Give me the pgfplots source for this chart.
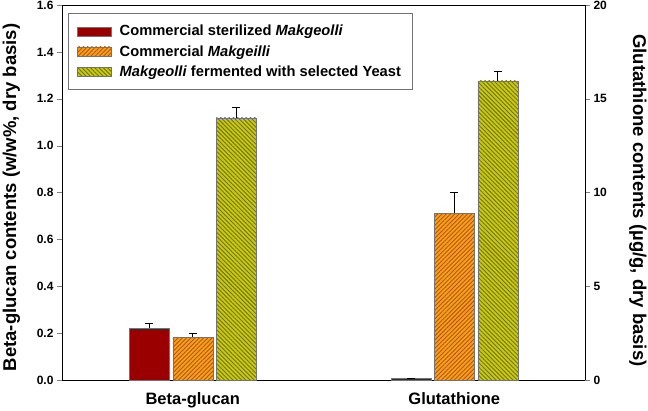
\documentclass[border=0pt]{standalone}
\usepackage{pgfplots}
\pgfplotsset{compat=1.18}
\usepackage{fontspec}
\setmainfont{Liberation Sans}
\usetikzlibrary{patterns.meta}
\definecolor{cred}{RGB}{155,0,0}
\definecolor{corange}{RGB}{245,160,35}
\definecolor{corangeL}{RGB}{185,85,0}
\definecolor{cgreen}{RGB}{200,200,25}
\definecolor{cgreenL}{RGB}{115,115,0}
\pgfplotsset{
  common/.style={
    width=523pt, height=375pt, scale only axis,
    xmin=0, xmax=4,
    ybar=3.5pt, bar width=40pt,
    tick align=outside,
    major tick length=5pt,
    /pgf/number format/assume math mode=true,
    ticklabel style={font=\bfseries\fontsize{12}{13}\selectfont},
    label style={font=\bfseries\fontsize{18.5}{20}\selectfont},
    error bars/error bar style={black, line width=0.7pt},
    error bars/error mark options={rotate=90, mark size=4pt, line width=0.7pt},
    legend image code/.code={\draw[##1] (0pt,-4.5pt) rectangle (34pt,4.5pt); \path (40pt,0pt);},
  },
  redbar/.style={fill=cred, draw=black!55, line width=0.3pt},
  orbar/.style={fill=corange, draw=black!55, line width=0.3pt,
    postaction={pattern={Lines[angle=45,distance=3pt,line width=0.9pt]}, pattern color=corangeL}},
  grbar/.style={fill=cgreen, draw=black!55, line width=0.3pt,
    postaction={pattern={Lines[angle=-45,distance=3pt,line width=0.9pt]}, pattern color=cgreenL}},
}
\begin{document}
\begin{tikzpicture}
\begin{axis}[common,
  ymin=0, ymax=1.6,
  ytick={0,0.2,...,1.6},
  yticklabel style={/pgf/number format/.cd, fixed, fixed zerofill, precision=1},
  ytick pos=left,
  xtick={1,3}, xticklabels={Beta-glucan, Glutathione},
  xtick style={draw=none},
  xticklabel style={font=\bfseries\fontsize{16.5}{18}\selectfont, yshift=-4.5pt},
  ylabel={Beta-glucan contents (w/w\%, dry basis)},
  ylabel style={at={(axis description cs:-0.0966,0.487)}, anchor=center},
  legend style={at={(0.0115,0.979)}, anchor=north west, draw=black!55, line width=0.7pt,
    font=\bfseries\fontsize{14.7}{16}\selectfont, row sep=4pt,
    inner xsep=9pt, inner ysep=10pt, cells={anchor=west}},
  legend cell align=left,
  axis line style={line width=0.9pt},
]
\addplot[redbar, error bars/.cd, y dir=plus, y explicit] coordinates {(1,0.222) +- (0,0.02)};
\addplot[orbar, error bars/.cd, y dir=plus, y explicit] coordinates {(1,0.183) +- (0,0.016)};
\addplot[grbar, error bars/.cd, y dir=plus, y explicit] coordinates {(1,1.118) +- (0,0.046)};
\legend{Commercial sterilized \textit{Makgeolli}, Commercial \textit{Makgeilli}, \textit{Makgeolli} fermented with selected Yeast}
\end{axis}
\begin{axis}[common,
  ymin=0, ymax=20,
  ytick={0,5,10,15,20},
  axis y line*=right, axis x line=none,
  ylabel={Glutathione contents (\textmu g/g, dry basis)},
  ylabel style={at={(axis description cs:1.101,0.479)}, anchor=center, rotate=180},
  axis line style={line width=0.9pt},
]
\addplot[redbar, error bars/.cd, y dir=plus, y explicit] coordinates {(3,0.1) +- (0,0)};
\addplot[orbar, error bars/.cd, y dir=plus, y explicit] coordinates {(3,8.9) +- (0,1.1)};
\addplot[grbar, error bars/.cd, y dir=plus, y explicit] coordinates {(3,15.96) +- (0,0.48)};
\end{axis}
\pgfresetboundingbox
\path[use as bounding box] (-62pt,-30pt) rectangle (586pt,380pt);
\end{tikzpicture}
\end{document}
